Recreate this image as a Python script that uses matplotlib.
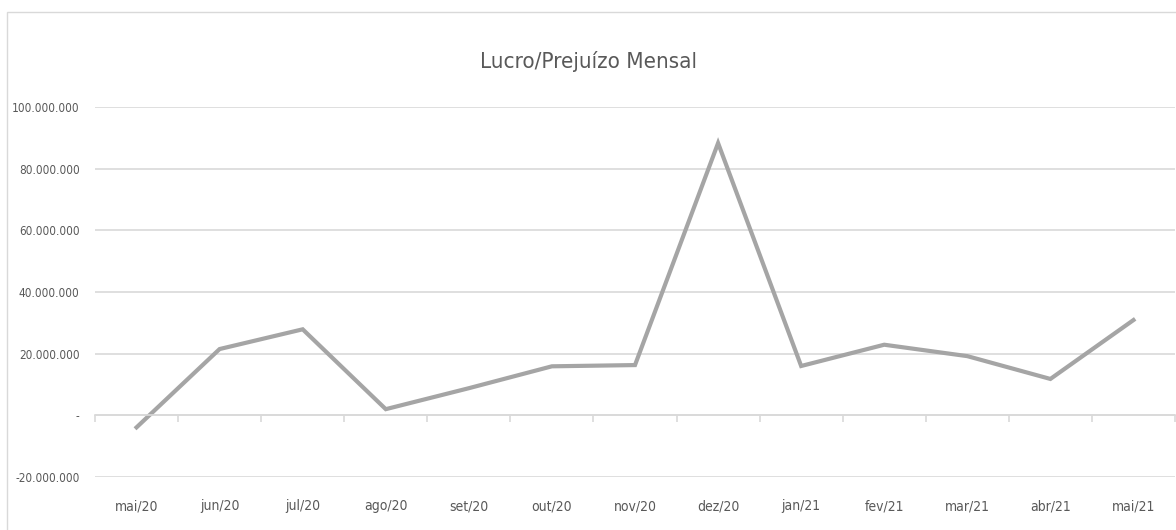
import matplotlib
matplotlib.use("Agg")
import matplotlib.pyplot as plt
from matplotlib.ticker import FuncFormatter, FixedLocator
from matplotlib.patches import Rectangle

# Dados (valores aproximados)
meses = ["mai/20", "jun/20", "jul/20", "ago/20", "set/20", "out/20", "nov/20",
         "dez/20", "jan/21", "fev/21", "mar/21", "abr/21", "mai/21"]
lucro = [-3.9e6, 21.5e6, 27.9e6, 2.0e6, 8.8e6, 15.9e6, 16.3e6,
         88.3e6, 16.0e6, 22.9e6, 19.2e6, 11.8e6, 30.9e6]

plt.rcParams["font.family"] = ["DejaVu Sans"]
plt.rcParams["font.stretch"] = "condensed"
cor_texto = "#595959"
cor_grade = "#d9d9d9"

def formata(v, pos):
    if abs(v) < 1:
        return "-"
    return f"{v:,.0f}".replace(",", ".")

fig = plt.figure(figsize=(11.76, 5.30), dpi=100)
ax = fig.add_axes([95 / 1176, 53 / 530, 1080 / 1176, 370 / 530])

x = list(range(len(meses)))
ax.plot(x, lucro, color="#a5a5a5", linewidth=3, solid_joinstyle="miter")

ax.set_xlim(-0.5, len(meses) - 0.5)
ax.set_ylim(-20e6, 100e6)
ax.set_yticks([-20e6, 0, 20e6, 40e6, 60e6, 80e6, 100e6])
ax.yaxis.set_major_formatter(FuncFormatter(formata))
ax.tick_params(axis="y", length=0, pad=11, labelsize=8.5, labelcolor=cor_texto)
ax.grid(axis="y", color=cor_grade, linewidth=1.2)
ax.set_axisbelow(True)

for lado in ["left", "right", "top"]:
    ax.spines[lado].set_visible(False)
ax.spines["bottom"].set_position(("data", 0))
ax.spines["bottom"].set_color(cor_grade)
ax.spines["bottom"].set_linewidth(1.2)

# marcas entre categorias no eixo zero
ax.set_xticks([])
ax.xaxis.set_minor_locator(FixedLocator([i - 0.5 for i in range(len(meses) + 1)]))
ax.tick_params(axis="x", which="minor", length=5, color=cor_grade, width=1.2)

# rótulos das categorias embaixo
sec = ax.secondary_xaxis("bottom")
sec.set_xticks(x)
sec.set_xticklabels(meses)
sec.tick_params(length=0, pad=16, labelsize=10, labelcolor=cor_texto)
sec.spines["bottom"].set_visible(False)

fig.text(0.5, 1 - 62 / 530, "Lucro/Prejuízo Mensal", ha="center", va="center",
         fontsize=16, color=cor_texto)

# borda do gráfico
fig.patches.append(Rectangle((7 / 1176, -0.01), 1.2, 1 - 12 / 530 + 0.01,
                             transform=fig.transFigure, fill=False,
                             edgecolor=cor_grade, linewidth=1))

fig.savefig("out.png", dpi=100)
